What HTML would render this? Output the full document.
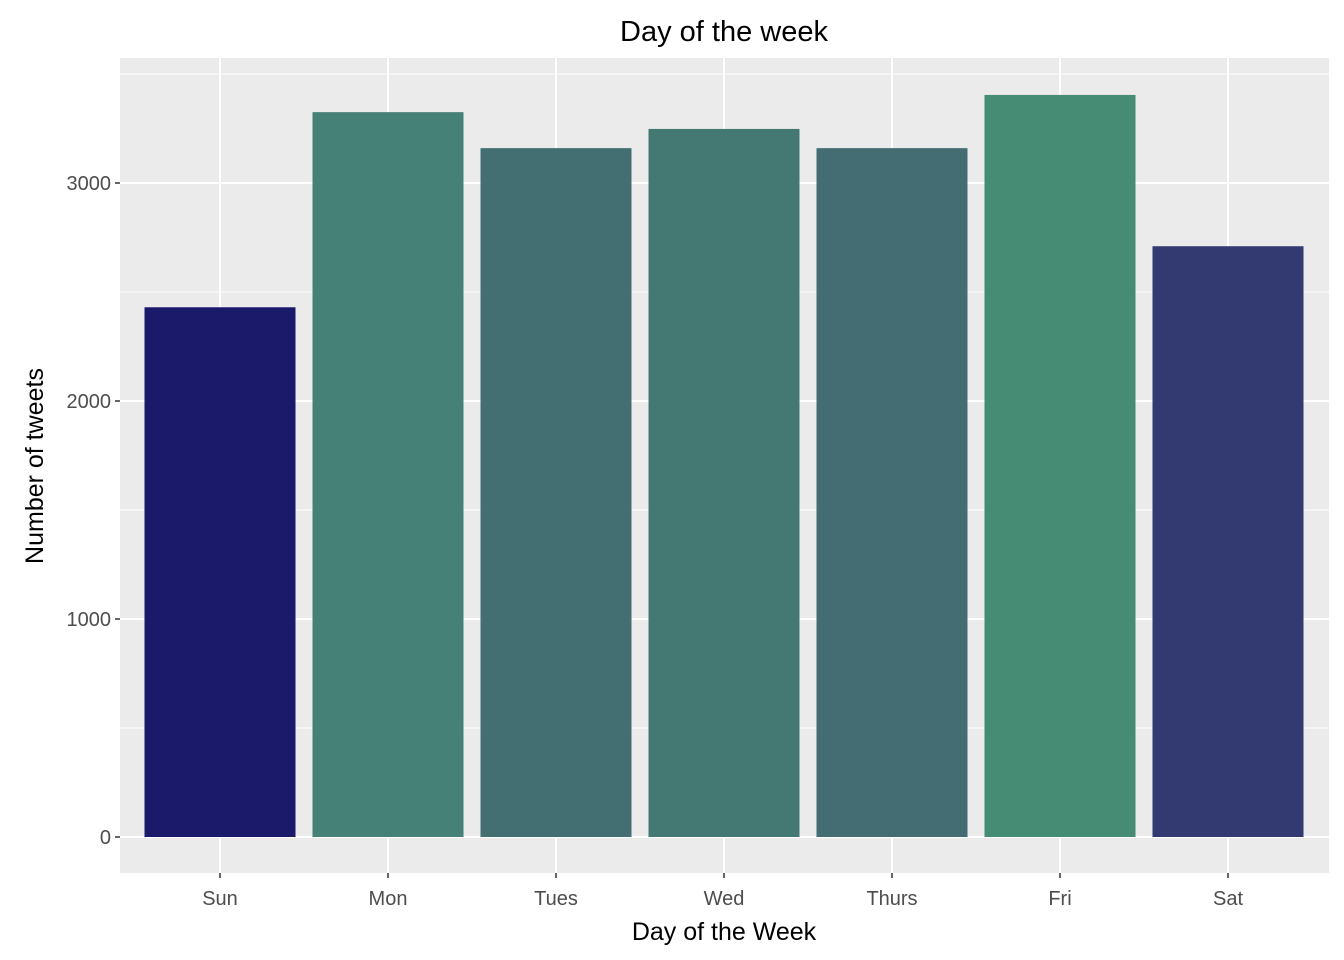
<!DOCTYPE html>
<html><head><meta charset="utf-8"><style>
html,body{margin:0;padding:0;background:#fff;}
svg{display:block;font-family:"Liberation Sans",Arial,sans-serif;}
</style></head><body>
<svg id="chart" width="1344" height="960"></svg>
<script>
const categories=["Sun","Mon","Tues","Wed","Thurs","Fri","Sat"];
const values=[2430,3325,3160,3248,3160,3404,2710];
const colors=["#1b196a","#458176","#436e72","#447872","#436d72","#468b74","#333a72"];
const yTicks=[0,1000,2000,3000];
const yMinor=[500,1500,2500,3500];
const NS="http://www.w3.org/2000/svg";
const svg=document.getElementById('chart');
const pL=120,pR=1329,pT=58,pB=873;
const y0=837,pxPer=0.218;
function y(v){return y0-v*pxPer;}
const step=168,x0=220,bw=151;
function x(i){return x0+i*step;}
function mk(t,a,p){const e=document.createElementNS(NS,t);for(const k in a)e.setAttribute(k,a[k]);(p||svg).appendChild(e);return e;}
const panel=mk('rect',{x:pL,y:pT,width:pR-pL,height:pB-pT,fill:'#ebebeb'});


yMinor.forEach(v=>{const l=mk('line',{x1:pL,x2:pR,y1:y(v),y2:y(v),stroke:'#fff','stroke-width':1});

});
yTicks.forEach(v=>{const l=mk('line',{x1:pL,x2:pR,y1:y(v),y2:y(v),stroke:'#fff','stroke-width':2});


const t=mk('line',{x1:pL-5,x2:pL,y1:y(v),y2:y(v),stroke:'#333','stroke-width':1.5});


const tx=mk('text',{x:pL-9,y:y(v)+7,'text-anchor':'end','font-size':20,fill:'#4d4d4d'});tx.textContent=v;

});
categories.forEach((c,i)=>{const l=mk('line',{x1:x(i),x2:x(i),y1:pT,y2:pB,stroke:'#fff','stroke-width':2});

});
categories.forEach((c,i)=>{
const r=mk('rect',{x:x(i)-bw/2,y:y(values[i]),width:bw,height:y(0)-y(values[i]),fill:colors[i]});


const t=mk('line',{x1:x(i),x2:x(i),y1:pB,y2:pB+5,stroke:'#333','stroke-width':1.5});


const tx=mk('text',{x:x(i),y:905,'text-anchor':'middle','font-size':20,fill:'#4d4d4d'});tx.textContent=c;


});
const title=mk('text',{x:724,y:41,'text-anchor':'middle','font-size':29,fill:'#000'});title.textContent='Day of the week';


const xt=mk('text',{x:724,y:940,'text-anchor':'middle','font-size':25,fill:'#000'});xt.textContent='Day of the Week';


const yt=mk('text',{x:0,y:0,'text-anchor':'middle','font-size':25,fill:'#000',transform:'translate(43,466) rotate(-90)'});yt.textContent='Number of tweets';


</script>
</body></html>
